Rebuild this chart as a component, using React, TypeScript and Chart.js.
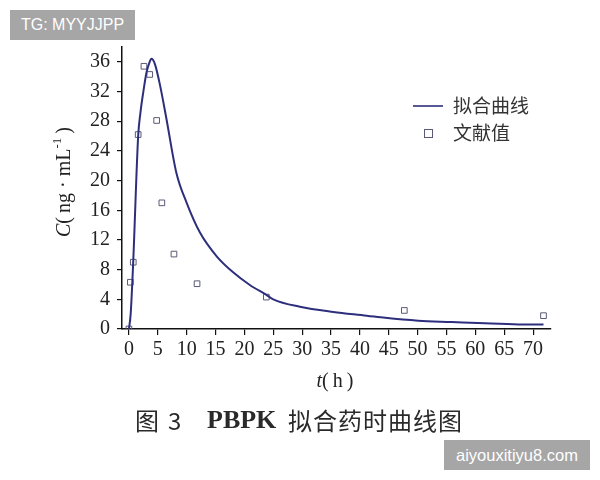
import React, { useEffect, useRef } from "react";
import { Chart, registerables } from "chart.js";

Chart.register(...registerables);

// ---- data ----
const fitTimes = [0, 0.3, 0.75, 1.6, 2.0, 2.5, 3.05, 3.5, 3.9, 4.5, 5.4, 6.5, 8.2, 10, 12.3, 15.2, 18.1, 21, 23.8, 25, 29.6, 35.4, 41.2, 44.4, 50.1, 55.9, 61.7, 67.5, 71.8];
const fitConc = [0, 2, 9.2, 26, 29.2, 32, 34.6, 35.8, 36.4, 35.7, 32.8, 28.3, 21.1, 17, 13, 9.8, 7.6, 5.9, 4.6, 4.0, 3.0, 2.3, 1.8, 1.5, 1.12, 0.94, 0.76, 0.62, 0.6];
const obsTimes = [0, 0.25, 0.75, 1.6, 2.6, 3.6, 4.8, 5.7, 7.8, 11.8, 23.8, 47.7, 71.8];
const obsConc = [0, 6.3, 9.0, 26.2, 35.4, 34.3, 28.1, 17.0, 10.1, 6.1, 4.3, 2.5, 1.8];
const xTicks = [0, 5, 10, 15, 20, 25, 30, 35, 40, 45, 50, 55, 60, 65, 70];
const yTicks = [0, 4, 8, 12, 16, 20, 24, 28, 32, 36];
const seriesLabels = ["拟合曲线", "文献值"];
const captionParts = ["图", "3", "PBPK", "拟合药时曲线图"];
const watermarkTop = "TG: MYYJJPP";
const watermarkBottom = "aiyouxitiyu8.com";

const LINE_COLOR = "#2e2f7c";
const POINT_COLOR = "#5a5a78";
const SERIF = '"Liberation Serif", "Times New Roman", serif';
const CJK = '"Noto Sans CJK SC", sans-serif';

const decorPlugin = {
  id: "decor",
  afterDraw(chart: any) {
    const ctx = chart.ctx;
    ctx.save();
    // y axis title: italic C + (ng · mL-1)
    ctx.translate(65, 182);
    ctx.rotate(-Math.PI / 2);
    const parts = [
      { t: "C", f: `italic 20px ${SERIF}`, dy: 0 },
      { t: "(\u2009ng \u00b7 mL", f: `20px ${SERIF}`, dy: 0 },
      { t: "-1", f: `13px ${SERIF}`, dy: -7 },
      { t: "\u2009)", f: `20px ${SERIF}`, dy: 0 },
    ];
    let total = 0;
    for (const p of parts) {
      ctx.font = p.f;
      total += ctx.measureText(p.t).width;
    }
    let x = -total / 2;
    ctx.fillStyle = "#222";
    ctx.textBaseline = "middle";
    ctx.textAlign = "left";
    for (const p of parts) {
      ctx.font = p.f;
      ctx.fillText(p.t, x, p.dy);
      x += ctx.measureText(p.t).width;
    }
    ctx.restore();

    // x axis title: italic t + (h)
    ctx.save();
    const xparts = [
      { t: "t", f: `italic 20px ${SERIF}` },
      { t: "(\u2009h\u2009)", f: `20px ${SERIF}` },
    ];
    let tw = 0;
    for (const p of xparts) {
      ctx.font = p.f;
      tw += ctx.measureText(p.t).width;
    }
    let xx = 335 - tw / 2;
    ctx.fillStyle = "#222";
    ctx.textBaseline = "middle";
    for (const p of xparts) {
      ctx.font = p.f;
      ctx.fillText(p.t, xx, 382);
      xx += ctx.measureText(p.t).width;
    }
    ctx.restore();

    // legend
    const ds = chart.data.datasets;
    ctx.save();
    ctx.strokeStyle = ds[0].borderColor;
    ctx.lineWidth = 1.6;
    ctx.beginPath();
    ctx.moveTo(413, 106);
    ctx.lineTo(443, 106);
    ctx.stroke();
    ctx.strokeStyle = ds[1].borderColor;
    ctx.lineWidth = 1;
    ctx.strokeRect(424.5, 129.5, 8, 8);
    ctx.fillStyle = "#333";
    ctx.font = `19px ${CJK}`;
    ctx.textBaseline = "middle";
    ctx.textAlign = "left";
    ctx.fillText(ds[0].label, 453, 106);
    ctx.fillText(ds[1].label, 453, 133);
    ctx.restore();
  },
};

export default function App() {
  const canvasRef = useRef<HTMLCanvasElement | null>(null);

  useEffect(() => {
    const canvas = canvasRef.current;
    if (!canvas) return;
    const chart = new Chart(canvas, {
      type: "scatter",
      data: {
        datasets: [
          {
            label: seriesLabels[0],
            data: fitTimes.map((t, i) => ({ x: t, y: fitConc[i] })),
            showLine: true,
            borderColor: LINE_COLOR,
            borderWidth: 2,
            pointRadius: 0,
            cubicInterpolationMode: "monotone",
          },
          {
            label: seriesLabels[1],
            data: obsTimes.map((t, i) => ({ x: t, y: obsConc[i] })),
            showLine: false,
            pointStyle: "rect",
            pointRadius: 4,
            borderColor: POINT_COLOR,
            backgroundColor: "rgba(255,255,255,0)",
            pointBorderWidth: 1,
          },
        ],
      },
      options: {
        responsive: false,
        animation: false,
        events: [],
        layout: { padding: { left: 0, right: 49, top: 47, bottom: 0 } },
        plugins: { legend: { display: false }, tooltip: { enabled: false } },
        scales: {
          x: {
            type: "linear",
            min: -1.2,
            max: 73.1,
            grid: { drawOnChartArea: false, drawTicks: true, tickLength: 6, color: "#111", lineWidth: 1.2 },
            border: { color: "#111", width: 1.5 },
            ticks: {
              font: { family: SERIF, size: 20 },
              color: "#222",
              padding: 3,
              maxRotation: 0,
              autoSkip: false,
            },
            afterBuildTicks: (s: any) => {
              s.ticks = xTicks.map((v) => ({ value: v }));
            },
            afterFit: (s: any) => {
              s.height = 151;
            },
          },
          y: {
            type: "linear",
            min: 0,
            max: 38,
            grid: { drawOnChartArea: false, drawTicks: true, tickLength: 5, color: "#111", lineWidth: 1.2 },
            border: { color: "#111", width: 1.5 },
            ticks: {
              font: { family: SERIF, size: 20 },
              color: "#222",
              padding: 7,
              autoSkip: false,
            },
            afterBuildTicks: (s: any) => {
              s.ticks = yTicks.map((v) => ({ value: v }));
            },
            afterFit: (s: any) => {
              s.width = 122;
            },
          },
        },
      },
      plugins: [decorPlugin],
    } as any);
    return () => chart.destroy();
  }, []);

  return (
    <div style={{ position: "absolute", left: 0, top: 0, width: 600, height: 480, background: "#fff", overflow: "hidden" }}>
      <canvas ref={canvasRef} width={600} height={480} style={{ position: "absolute", left: 0, top: 0, width: 600, height: 480 }} />
      <div
        style={{
          position: "absolute", left: 10, top: 10, width: 125, height: 30, background: "#a6a6a6",
          color: "#fff", font: '16px "Liberation Sans", Arial, sans-serif', lineHeight: "30px", textAlign: "center",
        }}
      >
        {watermarkTop}
      </div>
      <div style={{ position: "absolute", left: 135, top: 408, lineHeight: 1, whiteSpace: "nowrap", color: "#2a2a2a" }}>
        <span style={{ position: "absolute", left: 0, top: 0, font: `24px ${CJK}`, lineHeight: 1 }}>{captionParts[0]}</span>
        <span style={{ position: "absolute", left: 33, top: 0, font: `24px ${CJK}`, lineHeight: 1 }}>{captionParts[1]}</span>
        <span style={{ position: "absolute", left: 72, top: -1, font: `bold 26px ${SERIF}`, lineHeight: 1 }}>{captionParts[2]}</span>
        <span style={{ position: "absolute", left: 153, top: 0, font: `24px ${CJK}`, lineHeight: 1, letterSpacing: 1 }}>{captionParts[3]}</span>
      </div>
      <div
        style={{
          position: "absolute", left: 444, top: 440, width: 146, height: 30, background: "#a6a6a6",
          color: "#fff", font: '16.5px "Liberation Sans", Arial, sans-serif', lineHeight: "30px", textAlign: "center",
        }}
      >
        {watermarkBottom}
      </div>
    </div>
  );
}
